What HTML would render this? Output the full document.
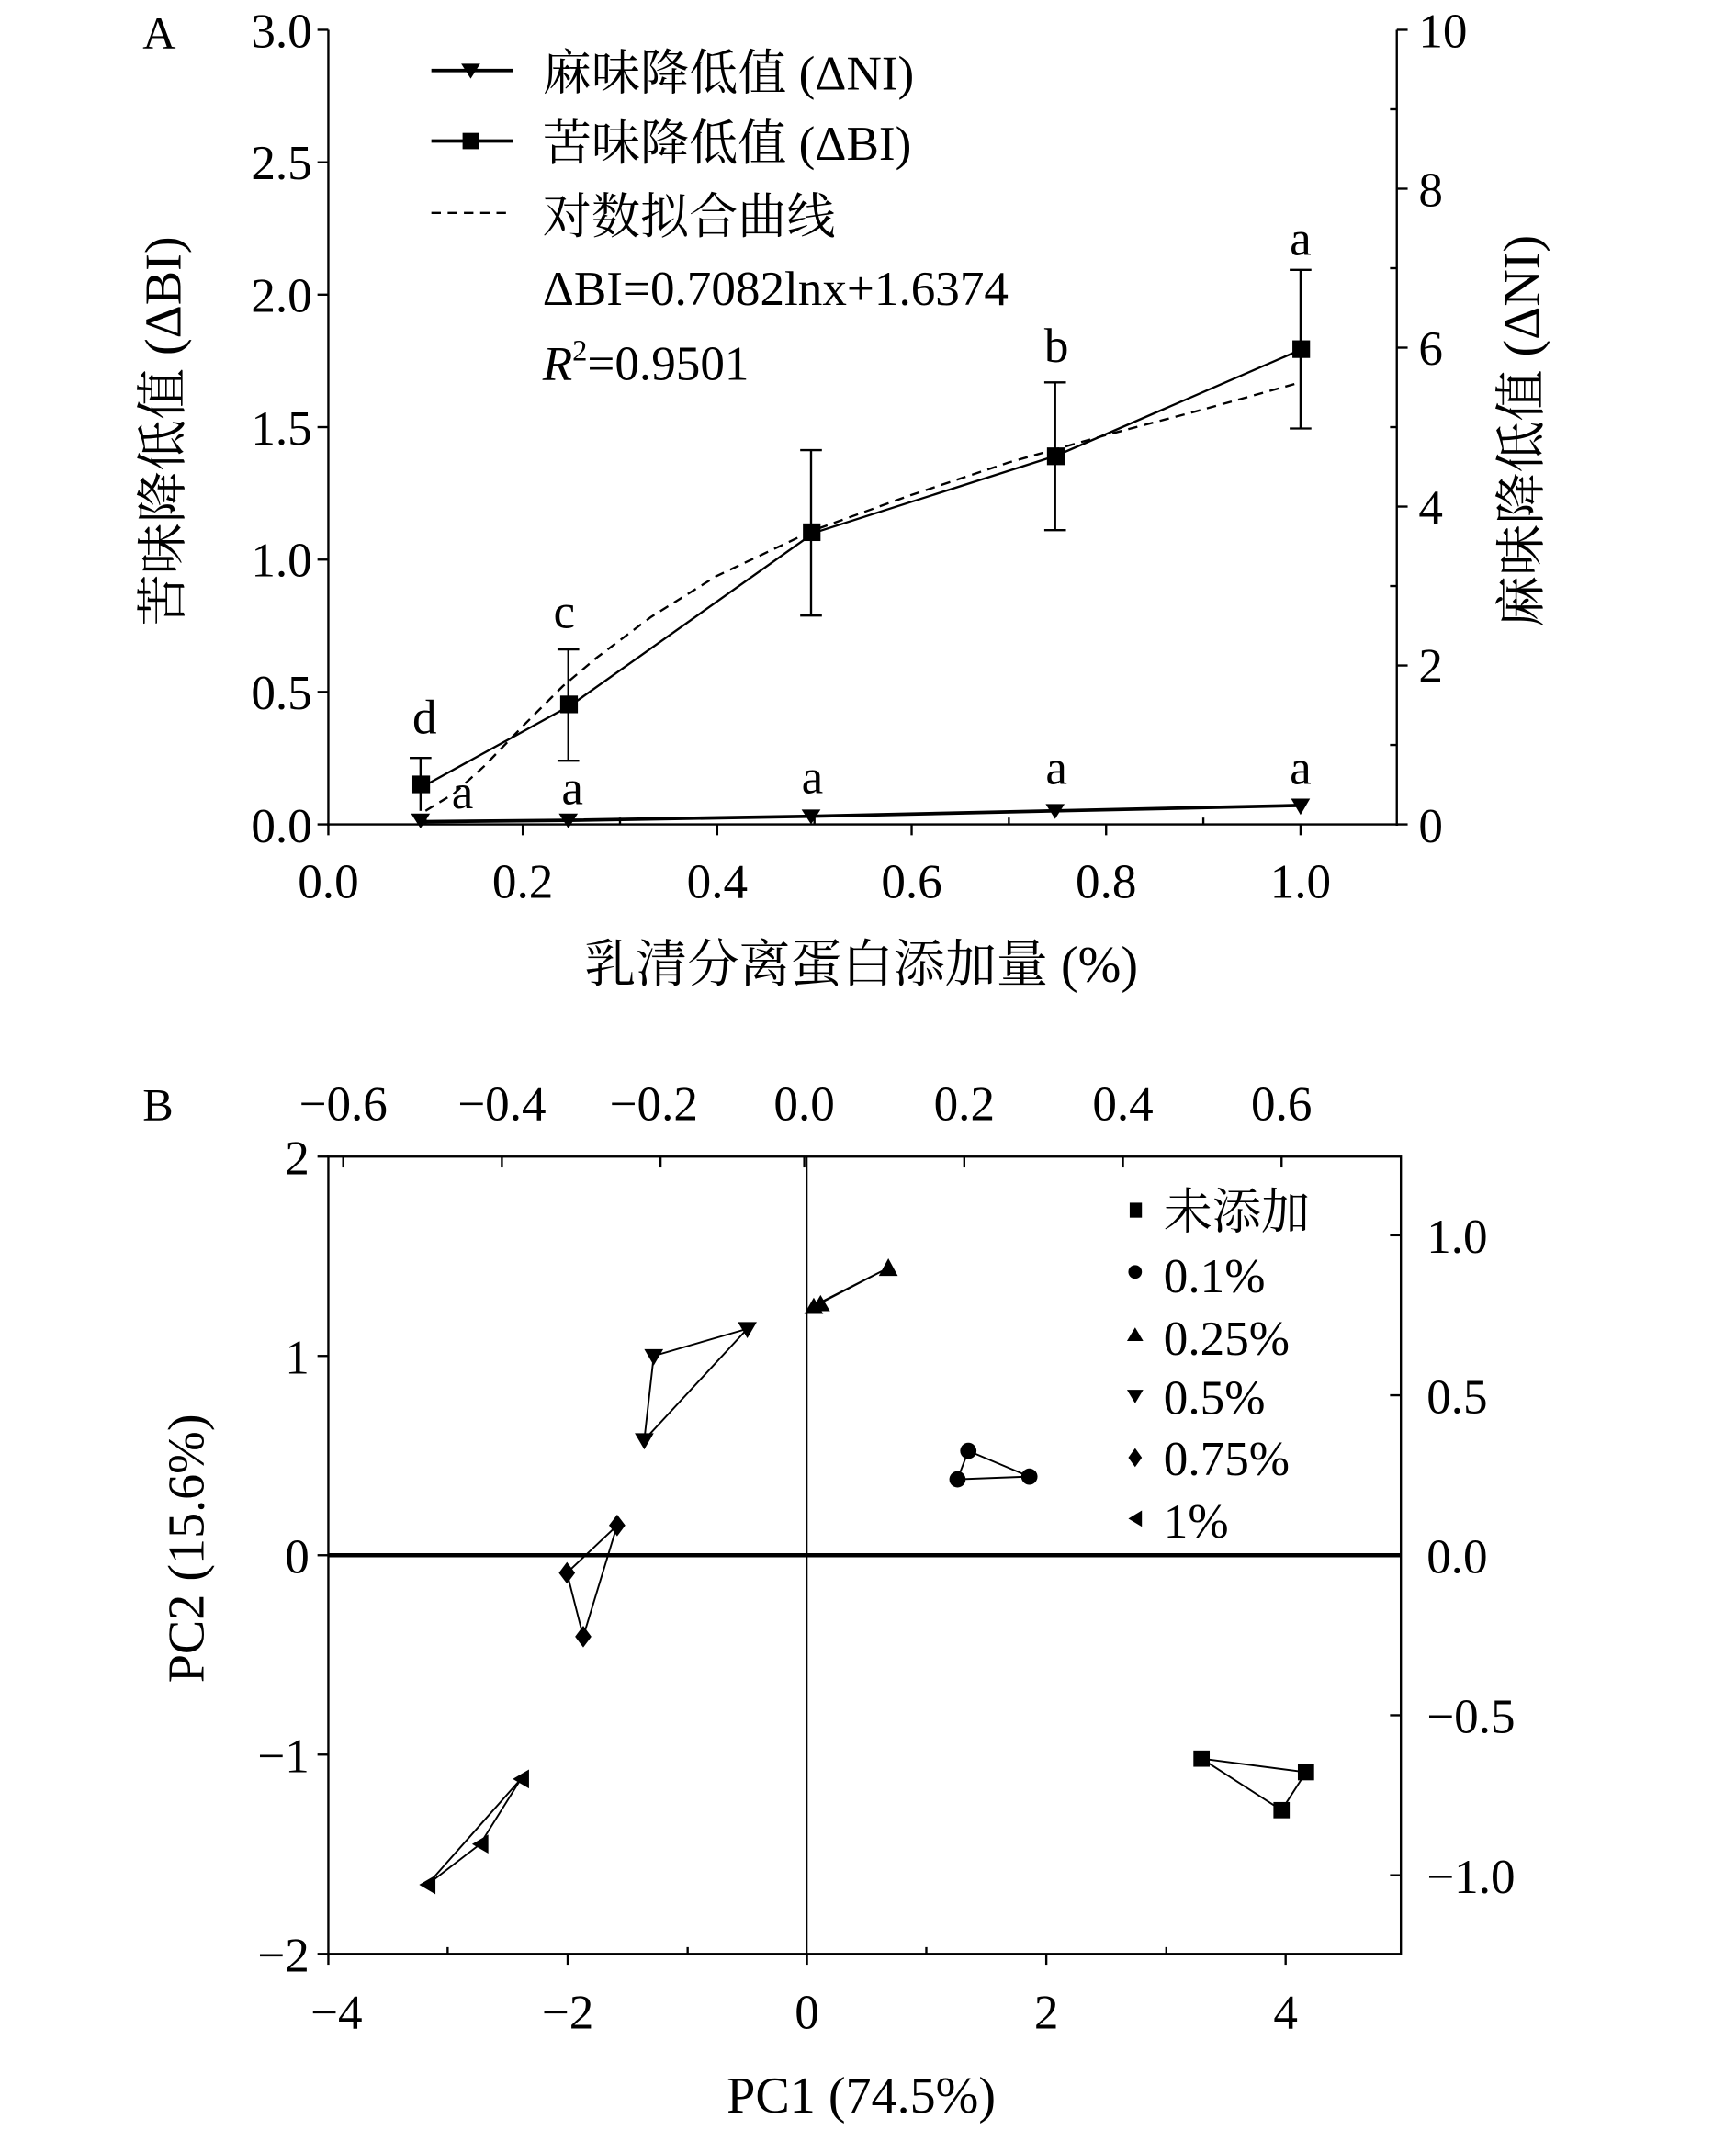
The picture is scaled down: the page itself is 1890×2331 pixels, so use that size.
<!DOCTYPE html>
<html><head><meta charset="utf-8"><style>
html,body{margin:0;padding:0;background:#fff;}
svg{display:block;}
text{font-family:"Liberation Serif","Noto Serif CJK SC",serif;fill:#000;}
</style></head><body>
<svg width="1890" height="2331" viewBox="0 0 1280 1579" xmlns="http://www.w3.org/2000/svg">
<!-- ===== Chart A ===== -->
<g stroke="#000" stroke-width="1.6" fill="none">
<line x1="242" y1="22" x2="242" y2="609"/>
<line x1="241" y1="608" x2="1031" y2="608"/>
<line x1="1030" y1="22" x2="1030" y2="609"/>
<line x1="234" y1="22" x2="242" y2="22"/><line x1="234" y1="119.7" x2="242" y2="119.7"/><line x1="234" y1="217.3" x2="242" y2="217.3"/><line x1="234" y1="315" x2="242" y2="315"/><line x1="234" y1="412.7" x2="242" y2="412.7"/><line x1="234" y1="510.3" x2="242" y2="510.3"/><line x1="234" y1="608" x2="242" y2="608"/>
<line x1="242" y1="608" x2="242" y2="616"/><line x1="313.7" y1="608" x2="313.7" y2="603"/><line x1="385.4" y1="608" x2="385.4" y2="616"/><line x1="457.1" y1="608" x2="457.1" y2="603"/><line x1="528.8" y1="608" x2="528.8" y2="616"/><line x1="600.5" y1="608" x2="600.5" y2="603"/><line x1="672.2" y1="608" x2="672.2" y2="616"/><line x1="743.9" y1="608" x2="743.9" y2="603"/><line x1="815.6" y1="608" x2="815.6" y2="616"/><line x1="887.3" y1="608" x2="887.3" y2="603"/><line x1="959" y1="608" x2="959" y2="616"/>
<line x1="1030" y1="22" x2="1038" y2="22"/><line x1="1030" y1="80.6" x2="1025" y2="80.6"/><line x1="1030" y1="139.2" x2="1038" y2="139.2"/><line x1="1030" y1="197.8" x2="1025" y2="197.8"/><line x1="1030" y1="256.4" x2="1038" y2="256.4"/><line x1="1030" y1="315" x2="1025" y2="315"/><line x1="1030" y1="373.6" x2="1038" y2="373.6"/><line x1="1030" y1="432.2" x2="1025" y2="432.2"/><line x1="1030" y1="490.8" x2="1038" y2="490.8"/><line x1="1030" y1="549.4" x2="1025" y2="549.4"/><line x1="1030" y1="608" x2="1038" y2="608"/>
</g>
<g font-size="36" text-anchor="end">
<text x="230" y="35">3.0</text><text x="230" y="132">2.5</text><text x="230" y="230">2.0</text><text x="230" y="328">1.5</text><text x="230" y="425">1.0</text><text x="230" y="523">0.5</text><text x="230" y="621">0.0</text>
</g>
<g font-size="36" text-anchor="start">
<text x="1046" y="35">10</text><text x="1046" y="152">8</text><text x="1046" y="269">6</text><text x="1046" y="386">4</text><text x="1046" y="503">2</text><text x="1046" y="621">0</text>
</g>
<g font-size="36" text-anchor="middle">
<text x="242" y="662">0.0</text><text x="385.4" y="662">0.2</text><text x="528.8" y="662">0.4</text><text x="672.2" y="662">0.6</text><text x="815.6" y="662">0.8</text><text x="959" y="662">1.0</text>
</g>
<text x="105" y="36" font-size="34">A</text>
<text x="635" y="724" font-size="38" text-anchor="middle">乳清分离蛋白添加量 (%)</text>
<text transform="translate(133,318) rotate(-90)" font-size="38" text-anchor="middle">苦味降低值 (ΔBI)</text>
<text transform="translate(1135,318) rotate(-90)" font-size="38" text-anchor="middle">麻味降低值 (ΔNI)</text>
<path d="M313.7,598 L335,585 L357,565 L385,536 L415,506 L440,485 L480,455 L528,425 L600,391 L672,365 L744,341 L815,321 L887,302 L959,282" stroke="#000" stroke-width="1.6" fill="none" stroke-dasharray="7,5"/>
<polyline points="313.7,579 421,520 600,393 779,336 959,258" stroke="#000" stroke-width="1.6" fill="none"/>
<g stroke="#000" stroke-width="1.6">
<line x1="310" y1="559" x2="310" y2="598"/><line x1="302" y1="559" x2="318" y2="559"/>
<line x1="419" y1="479" x2="419" y2="561"/><line x1="411" y1="479" x2="427" y2="479"/><line x1="411" y1="561" x2="427" y2="561"/>
<line x1="598" y1="332" x2="598" y2="454"/><line x1="590" y1="332" x2="606" y2="332"/><line x1="590" y1="454" x2="606" y2="454"/>
<line x1="778" y1="282" x2="778" y2="391"/><line x1="770" y1="282" x2="786" y2="282"/><line x1="770" y1="391" x2="786" y2="391"/>
<line x1="959" y1="199" x2="959" y2="316"/><line x1="951" y1="199" x2="967" y2="199"/><line x1="951" y1="316" x2="967" y2="316"/>
</g>
<g fill="#000">
<rect x="304" y="572" width="13" height="13"/><rect x="413" y="513" width="13" height="13"/><rect x="592" y="386" width="13" height="13"/><rect x="772" y="330" width="13" height="13"/><rect x="953" y="251" width="13" height="13"/>
</g>
<polyline points="310,606 419,605 598,602 778,598 959,594" stroke="#000" stroke-width="2.5" fill="none"/>
<g fill="#000">
<path d="M303,600 L317,600 L310,611Z"/><path d="M412,600 L426,600 L419,611Z"/><path d="M591,597 L605,597 L598,608Z"/><path d="M771,593 L785,593 L778,604Z"/><path d="M952,589 L966,589 L959,601Z"/>
</g>
<g font-size="36" text-anchor="middle">
<text x="313" y="541">d</text><text x="341" y="596">a</text>
<text x="416" y="463">c</text><text x="422" y="593">a</text>
<text x="599" y="585">a</text>
<text x="779" y="267">b</text><text x="779" y="578">a</text>
<text x="959" y="188">a</text><text x="959" y="578">a</text>
</g>
<g stroke="#000" stroke-width="2.5"><line x1="318" y1="52" x2="378" y2="52"/><line x1="318" y1="104" x2="378" y2="104"/></g>
<path d="M340,47 L354,47 L347,58Z" fill="#000"/>
<rect x="341" y="98" width="12" height="12" fill="#000"/>
<line x1="318" y1="157" x2="378" y2="157" stroke="#000" stroke-width="1.6" stroke-dasharray="7,5"/>
<g font-size="36">
<text x="400" y="66">麻味降低值 (ΔNI)</text>
<text x="400" y="118">苦味降低值 (ΔBI)</text>
<text x="400" y="172">对数拟合曲线</text>
<text x="400" y="225">ΔBI=0.7082lnx+1.6374</text>
<text x="400" y="280"><tspan font-style="italic">R</tspan><tspan font-size="22" dy="-14">2</tspan><tspan dy="14">=0.9501</tspan></text>
</g>

<!-- ===== Chart B ===== -->
<g stroke="#000" stroke-width="1.6" fill="none">
<rect x="242" y="853" width="791" height="588"/>
<line x1="595" y1="853" x2="595" y2="1441" stroke-width="1"/>
<line x1="242" y1="1147" x2="1033" y2="1147" stroke-width="3"/>
<line x1="234" y1="853" x2="242" y2="853"/><line x1="234" y1="1000" x2="242" y2="1000"/><line x1="234" y1="1147" x2="242" y2="1147"/><line x1="234" y1="1294" x2="242" y2="1294"/><line x1="234" y1="1441" x2="242" y2="1441"/>
<line x1="242" y1="1441" x2="242" y2="1449"/><line x1="330" y1="1441" x2="330" y2="1436"/><line x1="418.5" y1="1441" x2="418.5" y2="1449"/><line x1="507" y1="1441" x2="507" y2="1436"/><line x1="595" y1="1441" x2="595" y2="1449"/><line x1="683" y1="1441" x2="683" y2="1436"/><line x1="771.5" y1="1441" x2="771.5" y2="1449"/><line x1="860" y1="1441" x2="860" y2="1436"/><line x1="948" y1="1441" x2="948" y2="1449"/>
<line x1="253" y1="853" x2="253" y2="861"/><line x1="370" y1="853" x2="370" y2="861"/><line x1="487" y1="853" x2="487" y2="861"/><line x1="593" y1="853" x2="593" y2="861"/><line x1="711" y1="853" x2="711" y2="861"/><line x1="828" y1="853" x2="828" y2="861"/><line x1="945" y1="853" x2="945" y2="861"/>
<line x1="1033" y1="911" x2="1025" y2="911"/><line x1="1033" y1="1029" x2="1025" y2="1029"/><line x1="1033" y1="1147" x2="1025" y2="1147"/><line x1="1033" y1="1265" x2="1025" y2="1265"/><line x1="1033" y1="1383" x2="1025" y2="1383"/>
</g>
<g font-size="36" text-anchor="end">
<text x="228" y="866">2</text><text x="228" y="1013">1</text><text x="228" y="1160">0</text><text x="228" y="1307">−1</text><text x="228" y="1454">−2</text>
</g>
<g font-size="36" text-anchor="start">
<text x="1052" y="924">1.0</text><text x="1052" y="1042">0.5</text><text x="1052" y="1160">0.0</text><text x="1052" y="1278">−0.5</text><text x="1052" y="1396">−1.0</text>
</g>
<g font-size="36" text-anchor="middle">
<text x="248" y="1496">−4</text><text x="418.5" y="1496">−2</text><text x="595" y="1496">0</text><text x="771.5" y="1496">2</text><text x="948" y="1496">4</text>
<text x="253" y="826">−0.6</text><text x="370" y="826">−0.4</text><text x="482" y="826">−0.2</text><text x="593" y="826">0.0</text><text x="711" y="826">0.2</text><text x="828" y="826">0.4</text><text x="945" y="826">0.6</text>
</g>
<text x="105" y="826" font-size="34">B</text>
<text x="635" y="1558" font-size="38" text-anchor="middle">PC1 (74.5%)</text>
<text transform="translate(150,1142) rotate(-90)" font-size="38" text-anchor="middle">PC2 (15.6%)</text>
<g stroke="#000" stroke-width="1.3" fill="none">
<polygon points="886,1297 963,1307 945,1335"/>
<polygon points="714,1070 706,1091 759,1089"/>
<polygon points="600,963 605,961 655,935"/>
<polygon points="482,1000 475,1062 551,980"/>
<polygon points="455,1125 418,1160 430,1207"/>
<polygon points="384,1312 354,1360 315,1390"/>
</g>
<g fill="#000">
<rect x="880" y="1291" width="12" height="12"/><rect x="957" y="1301" width="12" height="12"/><rect x="939" y="1329" width="12" height="12"/>
<circle cx="714" cy="1070" r="6"/><circle cx="706" cy="1091" r="6"/><circle cx="759" cy="1089" r="6"/>
<path d="M593,969 L607,969 L600,957Z"/><path d="M598,967 L612,967 L605,955Z"/><path d="M648,941 L662,941 L655,928Z"/>
<path d="M475,995 L489,995 L482,1007Z"/><path d="M468,1057 L482,1057 L475,1069Z"/><path d="M544,975 L558,975 L551,987Z"/>
<path d="M455,1117 L461,1125 L455,1133 L449,1125Z"/><path d="M418,1152 L424,1160 L418,1168 L412,1160Z"/><path d="M430,1199 L436,1207 L430,1215 L424,1207Z"/>
<path d="M390,1305 L390,1319 L378,1312Z"/><path d="M360,1353 L360,1367 L348,1360Z"/><path d="M321,1383 L321,1397 L309,1390Z"/>
</g>
<g fill="#000">
<rect x="833" y="887" width="9" height="11"/>
<circle cx="837" cy="938" r="5"/>
<path d="M831,989 L843,989 L837,979Z"/>
<path d="M831,1025 L843,1025 L837,1035Z"/>
<path d="M837,1068 L842,1075 L837,1082 L832,1075Z"/>
<path d="M842,1114 L842,1126 L832,1120Z"/>
</g>
<g font-size="36">
<text x="858" y="906">未添加</text>
<text x="858" y="953">0.1%</text>
<text x="858" y="999">0.25%</text>
<text x="858" y="1043">0.5%</text>
<text x="858" y="1088">0.75%</text>
<text x="858" y="1134">1%</text>
</g>
</svg>
</body></html>
